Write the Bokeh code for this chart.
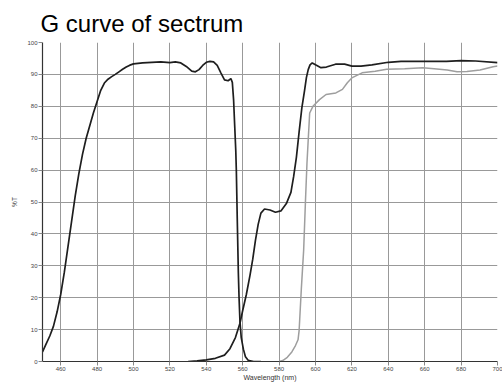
from bokeh.plotting import figure
from bokeh.models import FixedTicker
from bokeh.embed import file_html
from bokeh.resources import INLINE

# Curve A: band-pass (black)
wl_a = [450, 452, 454, 456, 458, 460, 462, 464, 466, 468, 470, 472, 474, 476, 478, 480,
        482, 484, 486, 488, 490, 492, 494, 496, 498, 500, 505, 510, 515, 520, 523, 526,
        529, 532, 534, 536, 538, 540, 542, 544, 546, 548, 550, 552, 553.5, 554.3, 555,
        555.6, 556.2, 556.5, 557.0, 557.6, 558, 558.5, 559.2, 560.4, 561.5, 563, 566, 570]
t_a = [3, 5.5, 8, 11, 15.5, 21, 28, 36, 44, 52, 59, 65, 70, 74, 78, 81.5,
       85, 87.3, 88.5, 89.3, 90, 90.8, 91.6, 92.3, 92.9, 93.3, 93.6, 93.8, 93.9, 93.7, 93.9, 93.6,
       92.5, 91.0, 90.8, 91.5, 92.8, 93.8, 94.1, 93.9, 92.8, 90.5, 88.3, 88.0, 88.7, 87.5, 82,
       74, 66, 60, 45, 28, 20, 12.5, 7.5, 3.8, 1.5, 0.4, 0, 0]

# Curve B: long-pass (black)
wl_b = [530, 535, 540, 545, 550, 553, 556, 558.5, 560, 562, 564, 565.5, 567, 568.5, 570, 572,
        575, 578, 581, 584, 586.5, 588, 589.5, 591, 592.5, 594, 595, 596, 597, 598.2, 600, 603,
        606, 611, 616, 620, 625, 631, 640, 647, 660, 672, 680, 688, 700]
t_b = [0, 0.2, 0.5, 1, 2, 4, 7.5, 12, 16, 21, 27, 32, 38, 43, 46.5, 47.8,
       47.5, 46.8, 47.2, 49.5, 53, 58, 64, 72, 79.5, 85, 89, 91.5, 93, 93.6, 93, 92.1,
       92.3, 93.2, 93.2, 92.6, 92.6, 93, 93.8, 94.1, 94.1, 94.1, 94.3, 94.2, 93.7]

# Curve C: long-pass (gray)
wl_c = [580, 582, 584.5, 587, 589, 590.4, 591, 592.2, 593.5, 594.5, 595.3, 596, 596.8, 598.6,
        602.2, 605.8, 611.2, 614.8, 617.5, 620.2, 625.6, 632.8, 639.1, 649, 658.9, 665.2,
        672.4, 677.8, 683.2, 690.4, 697.6, 700]
t_c = [0, 0.3, 1.3, 3, 5, 6.8, 9.7, 22.6, 35, 50.5, 62, 69.5, 77.9, 80,
       82.1, 83.7, 84.2, 85.3, 87.4, 89, 90.5, 91, 91.6, 91.8, 92.1, 91.8,
       91.4, 90.8, 90.9, 91.4, 92.4, 92.6]

x_ticks = [460, 480, 500, 520, 540, 560, 580, 600, 620, 640, 660, 680, 700]
y_ticks = [0, 10, 20, 30, 40, 50, 60, 70, 80, 90, 100]

p = figure(width=502, height=383, x_range=(450, 700), y_range=(0, 100),
           output_backend="svg", toolbar_location=None,
           min_border_left=42, min_border_right=5, min_border_top=42, min_border_bottom=22)

p.title.text = "G curve of sectrum"
p.title.text_font = "Liberation Sans"
p.title.text_font_size = "24px"
p.title.text_font_style = "normal"
p.title.text_color = "black"
p.title.align = "left"
p.title.standoff = 12
p.title.offset = -2

p.outline_line_color = None
p.background_fill_color = "white"
p.border_fill_color = "white"

for ax in (p.xaxis[0], p.yaxis[0]):
    ax.major_label_text_font = "Liberation Sans"
    ax.major_label_text_font_size = "6px"
    ax.major_label_text_color = "#444444"
    ax.axis_label_text_font = "Liberation Sans"
    ax.axis_label_text_font_style = "normal"
    ax.axis_label_text_color = "#333333"
    ax.axis_line_color = "#333333"
    ax.axis_line_width = 1.2
    ax.major_tick_line_color = "#888888"
    ax.minor_tick_line_color = None
    ax.major_tick_in = 0

p.xaxis.ticker = FixedTicker(ticks=x_ticks)
p.yaxis.ticker = FixedTicker(ticks=y_ticks)
p.xaxis.axis_label = "Wavelength (nm)"
p.yaxis.axis_label = "%T"
p.xaxis.axis_label_text_font_size = "7px"
p.yaxis.axis_label_text_font_size = "6.5px"
p.xaxis.major_tick_out = 4
p.yaxis.major_tick_out = 4
p.xaxis.major_label_standoff = 1
p.yaxis.major_label_standoff = 1
p.xaxis.axis_label_standoff = 0
p.yaxis.axis_label_standoff = 6

p.xgrid.ticker = FixedTicker(ticks=x_ticks)
p.ygrid.ticker = FixedTicker(ticks=y_ticks)
p.grid.grid_line_color = "#999999"
p.grid.grid_line_width = 1

p.line(wl_a, t_a, line_color="#1e1e1e", line_width=1.7)
p.line(wl_b, t_b, line_color="#1e1e1e", line_width=1.7)
p.line(wl_c, t_c, line_color="#9e9e9e", line_width=1.5)

open("out.html", "w").write(file_html(p, INLINE))
